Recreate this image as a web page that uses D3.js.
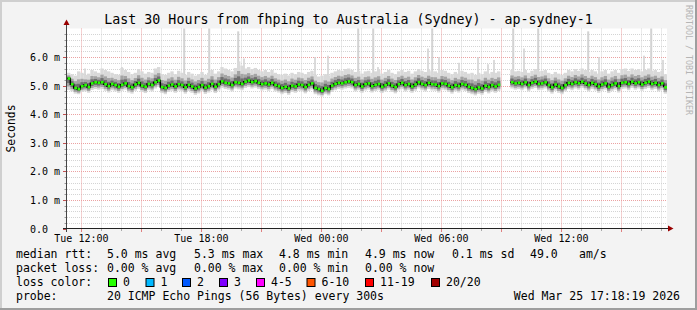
<!DOCTYPE html>
<html>
<head>
<meta charset="utf-8">
<script src="https://cdn.jsdelivr.net/npm/d3@7"></script>
<style>
  html, body { margin: 0; padding: 0; background: #f3f3f3; }
  svg { display: block; }
  text { font-family: 'DejaVu Sans Mono', monospace; }
</style>
</head>
<body>
<div id="chart"></div>
<script>
// median rtt in ms, one value per 10 minutes (null = no data)
var medianRtt = [
  5.25, 5.05, 4.92, 4.88, 4.98, 5.02, 4.95, 5.08, 5.12, 5.10,
  5.12, 5.05, 4.98, 5.06, 5.02, 4.96, 5.03, 5.08, 4.98, 4.94,
  5.04, 5.10, 5.00, 4.96, 5.06, 5.02, 5.12, 5.18, 4.95, 4.92,
  5.00, 5.04, 4.97, 5.05, 5.02, 4.94, 5.03, 4.97, 4.90, 4.95,
  5.02, 4.93, 4.98, 5.06, 4.96, 5.05, 5.15, 5.10, 5.08, 5.02,
  5.12, 5.10, 5.06, 5.14, 5.18, 5.12, 5.16, 5.10, 5.05, 5.08,
  5.04, 5.10, 5.02, 4.98, 4.92, 4.96, 4.90, 5.00, 4.97, 5.04,
  5.02, 4.95, 5.03, 5.08, 4.92, 4.88, 4.82, 4.92, 4.88, 5.00,
  5.06, 5.10, 5.08, 5.12, 5.15, 5.12, 5.02, 5.06, 4.97, 5.05,
  5.08, 4.98, 5.03, 5.06, 4.96, 5.02, 5.08, 5.00, 4.95, 5.05,
  5.10, 5.02, 5.06, 4.97, 5.04, 5.12, 5.06, 5.02, 5.10, 5.05,
  5.04, 4.98, 5.08, 5.06, 5.00, 4.94, 5.02, 4.98, 5.06, 5.03,
  4.96, 4.92, 4.88, 4.94, 4.90, 5.00, 4.95, 5.02, 4.97, 5.03,
  null, null, null, 5.12, 5.08, 5.10, 5.06, 5.12, 5.02, 5.10,
  5.14, 5.06, 5.08, 5.12, 5.02, 4.94, 5.04, 4.97, 4.92, 5.02,
  5.10, 5.06, 5.12, 5.08, 5.14, 5.08, 5.02, 5.10, 5.05, 4.97,
  5.04, 5.08, 4.96, 5.03, 5.08, 4.98, 5.10, 5.12, 5.06, 5.14,
  5.08, 5.12, 5.04, 5.10, 5.14, 5.06, 5.10, 5.02, 5.08, 4.94
];

// fastest ping of each step (bottom of the smoke)
var smokeLow = [
  4.85, 4.80, 4.72, 4.70, 4.78, 4.80, 4.75, 4.85, 4.88, 4.86,
  4.88, 4.82, 4.76, 4.84, 4.80, 4.75, 4.82, 4.86, 4.76, 4.72,
  4.82, 4.88, 4.78, 4.74, 4.84, 4.80, 4.90, 4.95, 4.74, 4.70,
  4.78, 4.82, 4.75, 4.83, 4.80, 4.72, 4.81, 4.75, 4.68, 4.73,
  4.80, 4.71, 4.76, 4.84, 4.74, 4.83, 4.92, 4.88, 4.86, 4.80,
  4.90, 4.87, 4.84, 4.92, 4.95, 4.90, 4.93, 4.88, 4.83, 4.86,
  4.82, 4.88, 4.80, 4.76, 4.70, 4.74, 4.68, 4.78, 4.75, 4.82,
  4.80, 4.73, 4.81, 4.86, 4.70, 4.66, 4.62, 4.70, 4.66, 4.78,
  4.84, 4.88, 4.86, 4.90, 4.92, 4.90, 4.80, 4.84, 4.75, 4.83,
  4.86, 4.76, 4.81, 4.84, 4.74, 4.80, 4.86, 4.78, 4.73, 4.83,
  4.88, 4.80, 4.84, 4.75, 4.82, 4.90, 4.84, 4.80, 4.88, 4.83,
  4.82, 4.76, 4.86, 4.84, 4.78, 4.72, 4.80, 4.76, 4.84, 4.81,
  4.74, 4.70, 4.66, 4.72, 4.68, 4.78, 4.73, 4.80, 4.75, 4.81,
  null, null, null, 4.90, 4.86, 4.88, 4.84, 4.90, 4.80, 4.88,
  4.92, 4.84, 4.86, 4.90, 4.80, 4.72, 4.82, 4.75, 4.70, 4.80,
  4.88, 4.84, 4.90, 4.86, 4.92, 4.86, 4.80, 4.88, 4.83, 4.75,
  4.82, 4.86, 4.74, 4.81, 4.86, 4.76, 4.88, 4.90, 4.84, 4.92,
  4.86, 4.90, 4.82, 4.88, 4.92, 4.84, 4.88, 4.80, 4.86, 4.72
];

// slowest ping of each step (top of the smoke)
var smokeHigh = [
  5.45, 5.40, 5.35, 5.50, 5.45, 5.38, 5.42, 5.55, 5.50, 5.45,
  5.60, 5.55, 5.50, 5.45, 5.40, 5.38, 5.62, 5.55, 5.48, 5.40,
  5.45, 5.58, 5.50, 5.42, 5.48, 5.45, 5.60, 5.65, 5.40, 5.38,
  5.45, 5.50, 5.40, 5.52, 5.45, 5.38, 5.48, 5.42, 5.35, 5.40,
  5.48, 5.38, 5.45, 5.55, 5.42, 5.50, 5.65, 5.60, 5.55, 5.50,
  5.62, 5.85, 5.70, 5.60, 5.65, 5.58, 5.62, 5.55, 5.50, 5.55,
  5.48, 5.55, 5.45, 5.40, 5.38, 5.42, 5.36, 5.45, 5.40, 5.48,
  5.45, 5.40, 5.48, 5.52, 5.38, 5.32, 5.35, 5.40, 5.36, 5.45,
  5.50, 5.55, 5.52, 5.58, 5.60, 5.55, 5.48, 5.52, 5.42, 5.50,
  5.52, 5.45, 5.50, 5.55, 5.42, 5.48, 5.55, 5.45, 5.40, 5.50,
  5.55, 5.48, 5.52, 5.42, 5.50, 5.58, 5.52, 5.48, 5.55, 5.50,
  5.50, 5.45, 5.55, 5.52, 5.45, 5.40, 5.48, 5.42, 5.52, 5.48,
  5.42, 5.45, 5.38, 5.45, 5.40, 5.50, 5.42, 5.48, 5.45, 5.50,
  null, null, null, 5.55, 5.50, 5.52, 5.48, 5.55, 5.45, 5.52,
  5.58, 5.50, 5.52, 5.55, 5.45, 5.40, 5.48, 5.42, 5.38, 5.45,
  5.55, 5.50, 5.58, 5.52, 5.60, 5.55, 5.48, 5.55, 5.50, 5.42,
  5.50, 5.55, 5.42, 5.50, 5.55, 5.45, 5.58, 5.60, 5.52, 5.60,
  5.55, 5.58, 5.50, 5.55, 5.60, 5.52, 5.55, 5.48, 5.52, 5.40
];

// single slow pings (hours after start, ms)
var spikeHours = [0.9, 2.75, 5.85, 7.1, 8.55, 8.85, 12.4, 13.05, 14.55, 15.3, 15.55, 18.05, 18.25,
  18.6, 19.6, 20.55, 21.05, 21.35, 22.3, 22.85, 23.55, 26.05, 26.6, 28.85, 29.2, 29.8];
var spikeValues = [5.6, 5.65, 7.0, 7.0, 6.9, 5.95, 6.0, 6.05, 7.0, 7.0, 5.65, 6.3, 7.0,
  6.0, 5.8, 6.0, 5.75, 5.9, 7.0, 6.3, 7.0, 6.9, 6.0, 6.05, 7.0, 5.9];

var yTickValues = [0, 1, 2, 3, 4, 5, 6];
var lossLabels = ['0', '1', '2', '3', '4-5', '6-10', '11-19', '20/20'];
var lossColors = ['#26ff00', '#00b8ff', '#0059ff', '#7e00ff', '#ff00ff', '#ff5500', '#ff0000', '#a10000'];
var rttStats = ['5.0 ms avg', '5.3 ms max', '4.8 ms min', '4.9 ms now', '0.1 ms sd', '49.0', 'am/s'];
var lossStats = ['0.00 % avg', '0.00 % max', '0.00 % min', '0.00 % now'];

var attrs = {
  width: 697,
  height: 310,
  plotLeft: 67,
  plotRight: 667,
  plotTop: 28.5,
  plotBottom: 228.5,
  start: new Date(2026, 2, 24, 11, 18, 19),
  end: new Date(2026, 2, 25, 17, 18, 19),
  stepMs: 10 * 60 * 1000
};

var svg = d3.select('#chart')
  .append('svg')
  .attr('width', attrs.width)
  .attr('height', attrs.height);

// background with rrdtool shading
svg.append('rect').attr('width', attrs.width).attr('height', attrs.height).attr('fill', '#f3f3f3');
svg.append('path').attr('d', 'M0,0H697V2H2V310H0Z').attr('fill', '#cfcfcf');
svg.append('path').attr('d', 'M697,0V310H0V308H695V0Z').attr('fill', '#9e9e9e');

var x = d3.scaleTime()
  .domain([attrs.start, attrs.end])
  .range([attrs.plotLeft, attrs.plotRight]);

var y = d3.scaleLinear()
  .domain([0, 7])
  .range([attrs.plotBottom, attrs.plotTop]);

// canvas
svg.append('rect')
  .attr('x', attrs.plotLeft)
  .attr('y', attrs.plotTop)
  .attr('width', attrs.plotRight - attrs.plotLeft)
  .attr('height', attrs.plotBottom - attrs.plotTop)
  .attr('fill', '#ffffff');

// grid
var grid = svg.append('g').attr('stroke-width', 1).attr('stroke-dasharray', '1,1').attr('fill', 'none');

var minorY = d3.range(1, 35).map(d => d / 5).filter(d => Math.abs(d - Math.round(d)) > 0.01);
grid.selectAll('.minor-y')
  .data(minorY)
  .enter()
  .append('line')
  .attr('x1', attrs.plotLeft).attr('x2', attrs.plotRight)
  .attr('y1', d => Math.round(y(d)) + 0.5).attr('y2', d => Math.round(y(d)) + 0.5)
  .attr('stroke', '#d4d4d4');

var hours = d3.timeHour.every(1).range(attrs.start, attrs.end);
grid.selectAll('.minor-x')
  .data(hours.filter(d => d.getHours() % 3 !== 0))
  .enter()
  .append('line')
  .attr('x1', d => Math.round(x(d)) + 0.5).attr('x2', d => Math.round(x(d)) + 0.5)
  .attr('y1', attrs.plotTop).attr('y2', attrs.plotBottom)
  .attr('stroke', '#d4d4d4');

grid.selectAll('.major-y')
  .data(yTickValues.filter(d => d > 0))
  .enter()
  .append('line')
  .attr('x1', attrs.plotLeft).attr('x2', attrs.plotRight)
  .attr('y1', d => Math.round(y(d)) + 0.5).attr('y2', d => Math.round(y(d)) + 0.5)
  .attr('stroke', '#eba2a2');

grid.selectAll('.major-x')
  .data(hours.filter(d => d.getHours() % 3 === 0))
  .enter()
  .append('line')
  .attr('x1', d => Math.round(x(d)) + 0.5).attr('x2', d => Math.round(x(d)) + 0.5)
  .attr('y1', attrs.plotTop).attr('y2', attrs.plotBottom)
  .attr('stroke', '#eba2a2');

// data rows
var rows = medianRtt.map((v, i) => ({
  t0: new Date(+attrs.start + i * attrs.stepMs),
  t1: new Date(+attrs.start + (i + 1) * attrs.stepMs),
  median: v,
  lo: smokeLow[i],
  hi: smokeHigh[i]
})).filter(d => d.median != null);

var plot = svg.append('g');

// lonely slow pings
plot.selectAll('.spike')
  .data(spikeHours.map((h, i) => ({ t: new Date(+attrs.start + h * 3600000), v: spikeValues[i] })))
  .enter()
  .append('rect')
  .attr('x', d => x(d.t) - 0.8)
  .attr('width', d => d.v > 6.8 ? 2 : 1.6)
  .attr('y', d => y(Math.min(d.v, 7)))
  .attr('height', d => y(5.2) - y(Math.min(d.v, 7)))
  .attr('fill', '#d3d3d3');

// smoke layers, lighter outside, darker near the median
function band(cls, lowFn, highFn, color) {
  plot.selectAll('.' + cls)
    .data(rows)
    .enter()
    .append('rect')
    .attr('class', cls)
    .attr('x', d => x(d.t0))
    .attr('width', d => x(d.t1) - x(d.t0))
    .attr('y', d => y(highFn(d)))
    .attr('height', d => y(lowFn(d)) - y(highFn(d)))
    .attr('fill', color);
}

band('smoke-outer', d => d.lo, d => d.hi, '#d9d9d9');
band('smoke-mid', d => d.lo + (d.median - d.lo) * 0.3, d => d.median + (d.hi - d.median) * 0.55, '#a4a4a4');
band('smoke-inner', d => d.lo + (d.median - d.lo) * 0.6, d => d.median + (d.hi - d.median) * 0.3, '#6e6e6e');

// median steps
var segments = [];
var current = [];
medianRtt.forEach((v, i) => {
  if (v == null) { if (current.length) segments.push(current); current = []; return; }
  current.push({ t: new Date(+attrs.start + i * attrs.stepMs), v: v });
});
if (current.length) segments.push(current);

var stepLine = d3.line()
  .x(d => x(d.t))
  .y(d => y(d.v))
  .curve(d3.curveStepAfter);

plot.selectAll('.median-link')
  .data(segments)
  .enter()
  .append('path')
  .attr('d', stepLine)
  .attr('fill', 'none')
  .attr('stroke', '#000')
  .attr('stroke-width', 1.5);

plot.selectAll('.median')
  .data(rows)
  .enter()
  .append('rect')
  .attr('x', d => x(d.t0) + 0.6)
  .attr('width', d => x(d.t1) - x(d.t0) - 0.6)
  .attr('y', d => y(d.median) - 1.3)
  .attr('height', 2.6)
  .attr('fill', lossColors[0]);

// axes
svg.append('line')
  .attr('x1', 66.5).attr('x2', 66.5).attr('y1', 232).attr('y2', 23)
  .attr('stroke', '#444');
svg.append('line')
  .attr('x1', 63).attr('x2', 669).attr('y1', 228.5).attr('y2', 228.5)
  .attr('stroke', '#222');
svg.append('path').attr('d', 'M63.5,25L69.5,25L66.5,19.5Z').attr('fill', '#990000');
svg.append('path').attr('d', 'M668,225.5L668,231.5L673.5,228.5Z').attr('fill', '#990000');

// tick marks
svg.selectAll('.ytick-minor')
  .data(minorY.filter(d => d < 7))
  .enter()
  .append('line')
  .attr('x1', 64.5).attr('x2', 66)
  .attr('y1', d => Math.round(y(d)) + 0.5).attr('y2', d => Math.round(y(d)) + 0.5)
  .attr('stroke', '#999');
svg.selectAll('.ytick-major')
  .data(yTickValues)
  .enter()
  .append('line')
  .attr('x1', 63).attr('x2', 66)
  .attr('y1', d => Math.round(y(d)) + 0.5).attr('y2', d => Math.round(y(d)) + 0.5)
  .attr('stroke', '#c05050');
svg.selectAll('.xtick')
  .data(hours)
  .enter()
  .append('line')
  .attr('x1', d => Math.round(x(d)) + 0.5).attr('x2', d => Math.round(x(d)) + 0.5)
  .attr('y1', 229).attr('y2', d => d.getHours() % 3 === 0 ? 232 : 231)
  .attr('stroke', d => d.getHours() % 3 === 0 ? '#e08080' : '#aaa');

var xAxis = svg.append('g')
  .attr('transform', 'translate(0,' + attrs.plotBottom + ')')
  .call(d3.axisBottom(x)
    .ticks(d3.timeHour.every(6))
    .tickFormat(d3.timeFormat('%a %H:%M'))
    .tickSize(0));
xAxis.select('.domain').remove();
xAxis.selectAll('text')
  .attr('y', 13)
  .attr('dy', 0)
  .attr('fill', '#000')
  .attr('font-size', '10px')
  .attr('font-family', "'DejaVu Sans Mono', monospace");

var yAxis = svg.append('g')
  .call(d3.axisLeft(y)
    .tickValues(yTickValues)
    .tickFormat(d => d === 0 ? '0.0' : d3.format('.1f')(d) + ' m')
    .tickSize(0));
yAxis.select('.domain').remove();
yAxis.selectAll('text')
  .attr('x', 30)
  .attr('dy', 0)
  .attr('y', 3.5)
  .attr('text-anchor', 'start')
  .attr('fill', '#000')
  .attr('font-size', '10px')
  .attr('font-family', "'DejaVu Sans Mono', monospace");

// titles
svg.append('text')
  .attr('x', attrs.width / 2)
  .attr('y', 24)
  .attr('text-anchor', 'middle')
  .attr('font-size', '13.3px')
  .text('Last 30 Hours from fhping to Australia (Sydney) - ap-sydney-1');

svg.append('text')
  .attr('transform', 'translate(15,' + ((attrs.plotTop + attrs.plotBottom) / 2) + ') rotate(-90)')
  .attr('text-anchor', 'middle')
  .attr('font-size', '11.4px')
  .text('Seconds');

svg.append('text')
  .attr('transform', 'translate(685.5,5) rotate(90)')
  .attr('font-size', '8.3px')
  .attr('fill', '#b5b5b5')
  .text('RRDTOOL / TOBI OETIKER');

// legend
var legend = svg.append('g').attr('font-size', '11.5px').attr('fill', '#000');
var statCols = [107, 194, 279, 365, 452, 530, 579];

legend.append('text').attr('x', 16).attr('y', 258).text('median rtt:');
legend.selectAll('.rtt')
  .data(rttStats)
  .enter()
  .append('text')
  .attr('x', (d, i) => statCols[i])
  .attr('y', 258)
  .text(d => d);

legend.append('text').attr('x', 16).attr('y', 272).text('packet loss:');
legend.selectAll('.loss')
  .data(lossStats)
  .enter()
  .append('text')
  .attr('x', (d, i) => statCols[i])
  .attr('y', 272)
  .text(d => d);

legend.append('text').attr('x', 16).attr('y', 286).text('loss color:');
var swatchX = [108, 145.5, 182, 219, 256, 306.5, 365, 431];
var swatch = legend.selectAll('.swatch')
  .data(lossLabels)
  .enter()
  .append('g')
  .attr('transform', (d, i) => 'translate(' + swatchX[i] + ',0)');
swatch.append('rect')
  .attr('x', 0.5).attr('y', 278.5)
  .attr('width', 8).attr('height', 8)
  .attr('fill', (d, i) => lossColors[i])
  .attr('stroke', '#000');
swatch.append('text')
  .attr('x', 15)
  .attr('y', 286)
  .text(d => d);

legend.append('text').attr('x', 16).attr('y', 300).text('probe:');
legend.append('text').attr('x', 107).attr('y', 300).text('20 ICMP Echo Pings (56 Bytes) every 300s');
legend.append('text').attr('x', 680).attr('y', 300).attr('text-anchor', 'end').text('Wed Mar 25 17:18:19 2026');
</script>
</body>
</html>
